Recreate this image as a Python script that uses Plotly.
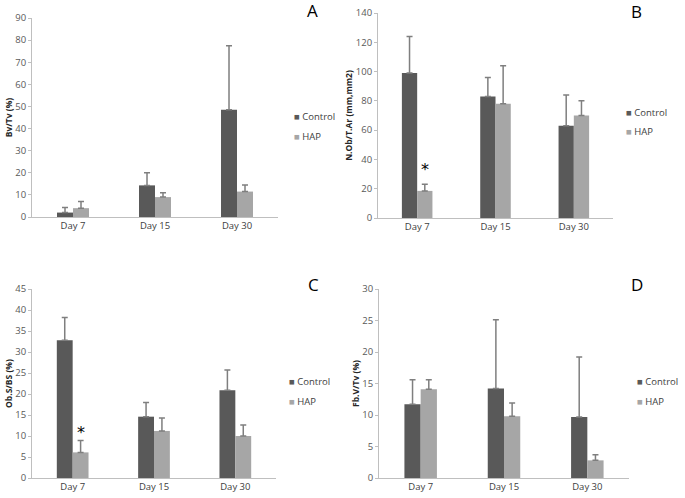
import plotly.graph_objects as go

W, H = 685, 498
days = ["Day 7", "Day 15", "Day 30"]
series_names = ["Control", "HAP"]
colors = ["#595959", "#a6a6a6"]

# Panel A: Bv/Tv (%)
a_control = [2.0, 14.3, 48.5]
a_control_err = [2.3, 5.7, 29.0]
a_hap = [4.0, 9.0, 11.5]
a_hap_err = [3.0, 2.0, 3.0]

# Panel B: N.Ob/T.Ar
b_control = [99.0, 83.0, 63.0]
b_control_err = [25.0, 13.0, 21.0]
b_hap = [18.5, 78.0, 70.0]
b_hap_err = [4.5, 26.0, 10.0]

# Panel C: Ob.S/BS (%)
c_control = [32.8, 14.6, 20.9]
c_control_err = [5.4, 3.4, 4.8]
c_hap = [6.1, 11.2, 10.0]
c_hap_err = [2.8, 3.1, 2.6]

# Panel D: Fb.V/Tv (%)
d_control = [11.7, 14.2, 9.7]
d_control_err = [3.9, 10.9, 9.5]
d_hap = [14.1, 9.8, 2.8]
d_hap_err = [1.5, 2.1, 0.9]

panels = [
    dict(letter="A", title="Bv/Tv (%)", ctrl=a_control, ce=a_control_err, hap=a_hap, he=a_hap_err,
         rng=90, dt=10, star=None, box=(32, 278, 18, 217), leg=(292, 116), let=(312, 10)),
    dict(letter="B", title="N.Ob/T.Ar (mm,mm2)", ctrl=b_control, ce=b_control_err, hap=b_hap, he=b_hap_err,
         rng=140, dt=20, star=33.0, box=(378, 613, 13, 218), leg=(624, 112), let=(636, 11)),
    dict(letter="C", title="Ob.S/BS (%)", ctrl=c_control, ce=c_control_err, hap=c_hap, he=c_hap_err,
         rng=45, dt=5, star=10.8, box=(32, 276, 289, 478), leg=(287, 381), let=(313, 284)),
    dict(letter="D", title="Fb.V/Tv (%)", ctrl=d_control, ce=d_control_err, hap=d_hap, he=d_hap_err,
         rng=30, dt=5, star=None, box=(379, 629, 289, 478), leg=(635, 381), let=(637, 284)),
]

FONT = "Open Sans"
fig = go.Figure()
annotations = []
layout = {}

for i, p in enumerate(panels):
    n = "" if i == 0 else str(i + 1)
    xa, ya = "x" + n, "y" + n
    x0, x1, y0, y1 = p["box"]
    for vals, errs, name, col in [(p["ctrl"], p["ce"], series_names[0], colors[0]),
                                  (p["hap"], p["he"], series_names[1], colors[1])]:
        fig.add_trace(go.Bar(
            x=days, y=vals, name=name, marker_color=col, marker_line_width=0,
            error_y=dict(type="data", array=errs, arrayminus=[0] * len(errs), symmetric=False,
                         color="#7f7f7f", thickness=1.5, width=3),
            xaxis=xa, yaxis=ya, showlegend=False))
    layout["xaxis" + n] = dict(
        domain=[x0 / W, x1 / W], anchor=ya, showline=True, linecolor="#bfbfbf", linewidth=1,
        ticks="", showgrid=False, automargin=False,
        tickfont=dict(family=FONT, size=9.5, color="#404040"), fixedrange=True)
    layout["yaxis" + n] = dict(
        domain=[1 - y1 / H, 1 - y0 / H], anchor=xa, range=[0, p["rng"]], dtick=p["dt"],
        showline=True, linecolor="#bfbfbf", linewidth=1, ticks="outside", ticklen=3,
        tickcolor="#bfbfbf", showgrid=False, zeroline=False, automargin=False,
        tickfont=dict(family=FONT, size=9.5, color="#595959"),
        title=dict(text="<b>" + p["title"] + "</b>", font=dict(family=FONT, size=8.5, color="#262626"),
                   standoff=1))
    # panel letter
    annotations.append(dict(text=p["letter"], xref="paper", yref="paper",
                            x=p["let"][0] / W, y=1 - p["let"][1] / H, showarrow=False,
                            font=dict(family=FONT, size=17, color="#000000"),
                            xanchor="center", yanchor="middle", borderpad=0))
    # legend entries
    lx, ly = p["leg"]
    for k, (name, col) in enumerate(zip(series_names, colors)):
        annotations.append(dict(
            text="<span style='color:%s'>■</span> %s" % (col, name), xref="paper", yref="paper",
            x=lx / W, y=1 - (ly + 20 * k) / H, showarrow=False, xanchor="left", yanchor="middle",
            font=dict(family=FONT, size=9.5, color="#404040")))
    # significance star over HAP Day 7
    if p["star"] is not None:
        annotations.append(dict(text="*", x=days[0], y=p["star"], xref=xa, yref=ya, xshift=8,
                                showarrow=False, yanchor="middle",
                                font=dict(family="DejaVu Sans", size=16, color="#000000")))

fig.update_layout(
    width=W, height=H, margin=dict(l=0, r=0, t=0, b=0, autoexpand=False),
    paper_bgcolor="white", plot_bgcolor="white",
    barmode="group", bargap=0.61, bargroupgap=0,
    annotations=annotations, **layout)

fig.write_html("out.html", config={"displayModeBar": False, "staticPlot": True},
               post_script="document.body.style.margin='0';document.body.style.overflow='hidden';")
